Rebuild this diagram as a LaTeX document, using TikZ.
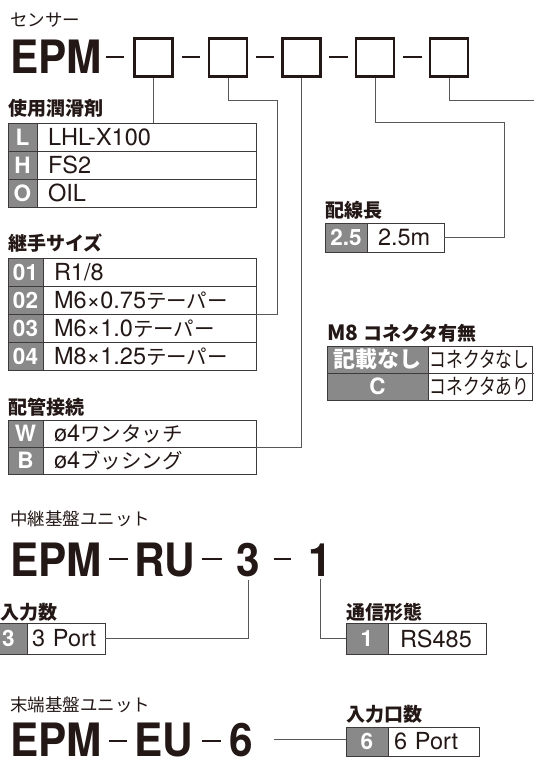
\documentclass[tikz,border=0pt]{standalone}
\usepackage{fontspec}
\setmainfont{TeX Gyre Heros}
\newfontfamily\jp{Noto Sans CJK JP}
\newfontfamily\jpn[FakeStretch=0.78]{Noto Sans CJK JP}
\newfontfamily\codefont[FakeStretch=0.92]{TeX Gyre Heros}
\usepackage{tikz}
\usetikzlibrary{positioning}
\definecolor{tinta}{HTML}{231815}
\definecolor{regla}{HTML}{3E3A39}
\definecolor{gris}{HTML}{898989}
\definecolor{guia}{HTML}{595757}
\newcommand\jps{\jp\fontsize{20.5}{21}\selectfont}

\begin{document}
\begin{tikzpicture}[x=1pt,y=-1pt,
    titulo/.style={anchor=west,inner sep=0pt,text=tinta,font=\jp\fontsize{17.5}{18}\selectfont},
    grande/.style={anchor=base west,inner sep=0pt,text=tinta,
                   font=\codefont\bfseries\fontsize{46}{46}\selectfont},
    slot/.style={draw=tinta,line width=2.4pt,minimum size=38pt,inner sep=0pt},
    raya/.style={draw=tinta,line width=2pt},
    encab/.style={anchor=west,inner sep=0pt,text=tinta,font=\jp\bfseries\fontsize{19}{19}\selectfont},
    hdr/.style={draw=regla,line width=0.9pt,fill=gris,text=white,inner sep=0pt,outer sep=0pt,
                anchor=north west,minimum height=28pt,font=\bfseries\fontsize{22.5}{22.5}\selectfont},
    cel/.style={draw=regla,line width=0.9pt,fill=white,text=tinta,inner ysep=0pt,inner xsep=11pt,
                outer sep=0pt,align=left,text width=#1,minimum height=28pt,
                font=\fontsize{23.5}{23.5}\selectfont},
    guia/.style={draw=guia,line width=0.9pt},
    node distance=0pt]
  \useasboundingbox (0,0) rectangle (534,758);
  \clip (0,0) rectangle (534,758);

  % sensor code
  \node[titulo] (tsen) at (10,20) {センサー};
  \node[grande] (epm1) at (10,73) {EPM};
  \node[slot] (s1) at (153.5,57.5) {};
  \node[slot] (s2) at (228,57.5) {};
  \node[slot] (s3) at (301.5,57.5) {};
  \node[slot] (s4) at (375,57.5) {};
  \node[slot] (s5) at (449,57.5) {};
  \draw[raya] (106,57) -- (124,57);
  \draw[raya] (182,57) -- (200,57);
  \draw[raya] (256,57) -- (274,57);
  \draw[raya] (329,57) -- (348,57);
  \draw[raya] (403,57) -- (422,57);

  % lubricant
  \node[encab] (hlub) at (8,108) {使用潤滑剤};
  \node[hdr,minimum width=29pt] (lubL) at (8,123) {L};
  \node[cel=197pt,right=of lubL] (lubLt) {LHL-X100};
  \node[hdr,minimum width=29pt,below=of lubL] (lubH) {H};
  \node[cel=197pt,right=of lubH] (lubHt) {FS2};
  \node[hdr,minimum width=29pt,below=of lubH] (lubO) {O};
  \node[cel=197pt,right=of lubO] (lubOt) {OIL};

  % fitting size
  \node[encab] (hfit) at (8,243) {継手サイズ};
  \node[hdr,minimum width=35pt] (fit1) at (8,258) {01};
  \node[cel=191pt,right=of fit1] (fit1t) {R1/8};
  \node[hdr,minimum width=35pt,below=of fit1] (fit2) {02};
  \node[cel=191pt,right=of fit2] (fit2t) {M6×0.75{\jps テーパー}};
  \node[hdr,minimum width=35pt,below=of fit2] (fit3) {03};
  \node[cel=191pt,right=of fit3] (fit3t) {M6×1.0{\jps テーパー}};
  \node[hdr,minimum width=35pt,below=of fit3] (fit4) {04};
  \node[cel=191pt,right=of fit4] (fit4t) {M8×1.25{\jps テーパー}};

  % piping
  \node[encab] (hpip) at (8,407) {配管接続};
  \node[hdr,minimum width=35pt,minimum height=27pt] (pipW) at (8,420) {W};
  \node[cel=191pt,minimum height=27pt,right=of pipW] (pipWt) {ø4{\jps ワンタッチ}};
  \node[hdr,minimum width=35pt,minimum height=27pt,below=of pipW] (pipB) {B};
  \node[cel=191pt,minimum height=27pt,right=of pipB] (pipBt) {ø4{\jps ブッシング}};

  % cable length
  \node[encab] (hcab) at (325,210) {配線長};
  \node[hdr,minimum width=42pt,minimum height=29pt] (cab) at (325,223) {2.5};
  \node[cel=55pt,minimum height=29pt,right=of cab] (cabt) {2.5m};

  % M8 connector
  \node[encab] (hm8) at (327,333) {{\bfseries\fontsize{21}{21}\selectfont M8}\hspace{5pt}コネクタ有無};
  \node[hdr,minimum width=101pt,minimum height=27pt,
        font=\jp\bfseries\fontsize{22}{22}\selectfont] (m8a) at (327,346) {記載なし};
  \node[cel=101pt,inner xsep=1.5pt,minimum height=27pt,font=\jpn\fontsize{21.5}{21.5}\selectfont,
        right=of m8a] (m8at) {コネクタなし};
  \node[hdr,minimum width=101pt,minimum height=27pt,below=of m8a] (m8b) {C};
  \node[cel=101pt,inner xsep=1.5pt,minimum height=27pt,font=\jpn\fontsize{21.5}{21.5}\selectfont,
        right=of m8b] (m8bt) {コネクタあり};

  \coordinate (k2) at (277,100);
  \coordinate (k4) at (504,122);
  \coordinate (k5) at (560,100);
  \draw[guia] (s1.south) -- (s1.south |- lubLt.north);
  \draw[guia] (s2.south) |- (k2) |- (fit2t.south east);
  \draw[guia] (s3.south) |- (pipWt.south east);
  \draw[guia] (s4.south) |- (k4) |- (cabt.east);
  \draw[guia] (s5.south) |- (k5) |- (m8at.south east);

  % relay board
  \node[titulo] (trel) at (10,519) {中継基盤ユニット};
  \node[grande] (epm2) at (10,576) {EPM};
  \node[grande] (ru) at (134,576) {RU};
  \node[grande] (ru3) at (236,576) {3};
  \node[grande] (ru1) at (308,576) {1};
  \draw[raya] (109,559) -- (128,559);
  \draw[raya] (202,559) -- (222,559);
  \draw[raya] (274,559) -- (291,559);

  \node[encab] (hin) at (0,612) {入力数};
  \node[hdr,minimum width=37pt,minimum height=31pt] (in3) at (-10,623) {3};
  \node[cel=68pt,inner xsep=5pt,minimum height=31pt,right=of in3] (in3t) {3 Port};
  \node[encab] (hcom) at (346,612) {通信形態};
  \node[hdr,minimum width=42pt,minimum height=31pt] (com1) at (346,623) {1};
  \node[cel=74pt,inner xsep=12pt,minimum height=31pt,right=of com1] (com1t) {RS485};
  \draw[guia] ([yshift=-3pt]ru3.south) |- (in3t.east);
  \draw[guia] ([yshift=-3pt]ru1.south) |- (com1.west);

  % end board
  \node[titulo] (tend) at (10,705) {末端基盤ユニット};
  \node[grande] (epm3) at (10,756) {EPM};
  \node[grande] (eu) at (134,756) {EU};
  \node[grande] (eu6) at (229,756) {6};
  \draw[raya] (109,741) -- (127,741);
  \draw[raya] (202,741) -- (221,741);

  \node[encab] (hin6) at (346,714) {入力口数};
  \node[hdr,minimum width=42pt,minimum height=29pt] (in6) at (346,727) {6};
  \node[cel=79pt,inner xsep=6pt,minimum height=29pt,right=of in6] (in6t) {6 Port};
  \draw[guia] ([xshift=21pt]eu6.east) -- (eu6.east -| in6.west);
\end{tikzpicture}
\end{document}
